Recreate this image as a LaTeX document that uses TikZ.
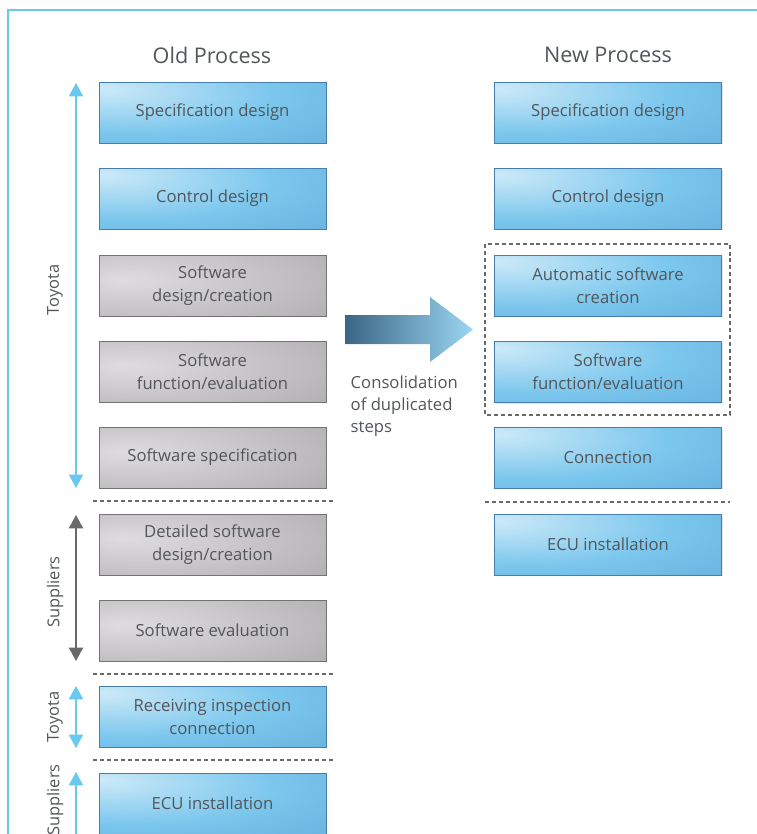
\documentclass[tikz,border=0pt]{standalone}
\usepackage{fontspec}
\setmainfont{Open Sans}
\usetikzlibrary{arrows.meta, shadows}

\definecolor{FrameBlue}{RGB}{105,200,240}
\definecolor{BoxBlueLight}{RGB}{205,234,248}
\definecolor{BoxBlueMid}{RGB}{122,198,237}
\definecolor{BoxBlueDark}{RGB}{85,160,210}
\definecolor{BoxBlueEdge}{RGB}{72,126,170}
\definecolor{BoxGreyLight}{RGB}{222,220,222}
\definecolor{BoxGreySoft}{RGB}{198,196,198}
\definecolor{BoxGreyMid}{RGB}{172,170,172}
\definecolor{BoxGreyDark}{RGB}{112,110,112}
\definecolor{BoxGreyEdge}{RGB}{115,115,115}
\definecolor{LabelText}{RGB}{82,86,90}
\definecolor{SplitGrey}{RGB}{105,105,105}
\definecolor{ArrowDark}{RGB}{58,102,132}
\definecolor{ArrowLight}{RGB}{155,214,243}

\pgfdeclareradialshading{bluestep}{\pgfpoint{-25bp}{20bp}}{%
  color(0bp)=(BoxBlueLight); color(32bp)=(BoxBlueMid);
  color(78bp)=(BoxBlueDark); color(110bp)=(BoxBlueDark)}
\pgfdeclareradialshading{greystep}{\pgfpoint{-20bp}{5bp}}{%
  color(0bp)=(BoxGreyLight); color(25bp)=(BoxGreySoft);
  color(52bp)=(BoxGreyMid); color(74bp)=(BoxGreyDark); color(100bp)=(BoxGreyDark)}

\tikzset{
  stepbase/.style = {minimum width=170pt, minimum height=45.5pt, inner sep=2pt,
    align=center, text=LabelText, font=\fontsize{12.5}{17.2}\selectfont,
    drop shadow={shadow xshift=1pt, shadow yshift=-1.2pt, opacity=0.2}},
  toyotastep/.style = {stepbase, shade, shading=bluestep, draw=BoxBlueEdge, line width=0.4pt},
  supplierstep/.style = {stepbase, shade, shading=greystep, draw=BoxGreyEdge, line width=0.4pt},
  heading/.style = {text=LabelText, font=\fontsize{16.2}{19}\selectfont},
  side/.style = {text=LabelText, rotate=90, font=\fontsize{12.3}{14}\selectfont},
  span/.style = {line width=1.5pt, {Triangle[width=10.5pt,length=10pt]}-{Triangle[width=10.5pt,length=10pt]}},
  split/.style = {SplitGrey, line width=1.1pt, dash pattern=on 3pt off 2.2pt},
}

\begin{document}
\begin{tikzpicture}[x=0.75pt, y=-0.75pt]

\useasboundingbox (0,0) rectangle (756,834);
\draw[FrameBlue, line width=1.5pt] (8,10) rectangle (780,860);

\node[heading] (oldhead) at (212,55) {Old Process};
\node[heading] (newhead) at (608,55) {New Process};

% old process, top to bottom
\node[toyotastep]   (old1) at (212.5,112.5) {Specification design};
\node[toyotastep]   (old2) at (212.5,198.5) {Control design};
\node[supplierstep] (old3) at (212.5,285.5) {Software\\design/creation};
\node[supplierstep] (old4) at (212.5,371.5) {Software\\function/evaluation};
\node[supplierstep] (old5) at (212.5,457.5) {Software specification};
\node[supplierstep] (old6) at (212.5,544.5) {Detailed software\\design/creation};
\node[supplierstep] (old7) at (212.5,630.5) {Software evaluation};
\node[toyotastep]   (old8) at (212.5,716.5) {Receiving inspection\\connection};
\node[toyotastep]   (old9) at (212.5,803.5) {ECU installation};

% new process
\node[toyotastep] (new1) at (608,112.5) {Specification design};
\node[toyotastep] (new2) at (608,198.5) {Control design};
\node[toyotastep] (new3) at (608,285.5) {Automatic software\\creation};
\node[toyotastep] (new4) at (608,372) {Software\\function/evaluation};
\node[toyotastep] (new5) at (608,457.5) {Connection};
\node[toyotastep] (new6) at (608,544.5) {ECU installation};

\draw[split] (485,244) rectangle (730,415);

\draw[split] (93,501) -- (333,501);
\draw[split] (93,674) -- (333,674);
\draw[split] (93,760) -- (333,760);
\draw[split] (485,502) -- (730,502);

% who does what
\coordinate (tTop) at (76,83);
\coordinate (tBot) at (76,488);
\coordinate (sTop) at (76,515);
\coordinate (sBot) at (76,661);
\coordinate (rTop) at (76,686);
\coordinate (rBot) at (76,748);
\coordinate (eTop) at (76,772);
\coordinate (eBot) at (76,860);
\draw[span, FrameBlue] (tTop) -- (tBot);
\draw[span, SplitGrey] (sTop) -- (sBot);
\draw[span, FrameBlue] (rTop) -- (rBot);
\draw[span, FrameBlue] (eTop) -- (eBot);

\node[side] (toyotaA)   at (55,290) {Toyota};
\node[side] (suppliersA) at (55,592) {Suppliers};
\node[side] (toyotaB)   at (55,717) {Toyota};
\node[side] (suppliersB) at (55,800) {Suppliers};

% consolidation arrow
\shade[left color=ArrowDark, right color=ArrowLight]
    (345,315) -- (430,315) -- (430,297) -- (473,329.5)
    -- (430,362) -- (430,344) -- (345,344) -- cycle;
\node[text=LabelText, font=\fontsize{12.5}{16.5}\selectfont, align=left, anchor=north west]
    (merge) at (346,371) {Consolidation\\of duplicated\\steps};

\end{tikzpicture}
\end{document}
